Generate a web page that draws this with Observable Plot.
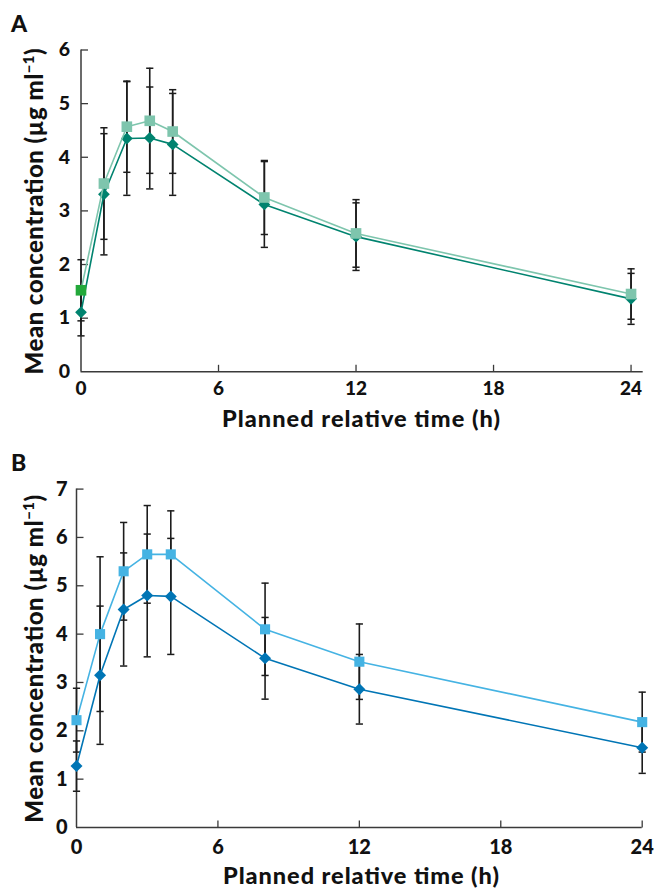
<!DOCTYPE html>
<html><head><meta charset="utf-8">
<script src="https://cdn.jsdelivr.net/npm/d3@7"></script>
<script src="https://cdn.jsdelivr.net/npm/@observablehq/plot@0.6"></script>
<style>
body{margin:0;background:#fff;}
#wrap{position:relative;width:654px;height:888px;}
#wrap svg{position:absolute;left:0;display:block;}
#wrap svg text{font-weight:900;}
</style></head><body><div id="wrap"></div>
<script>
// Shared time points (h)
const times = [0, 1, 2, 3, 4, 8, 12, 24];
const xTicks = [0, 6, 12, 18, 24];

// Panel A
const aSquareMean = [1.52, 3.51, 4.57, 4.68, 4.48, 3.25, 2.58, 1.45];
const aSquareSd   = [0.57, 1.04, 0.85, 0.98, 0.78, 0.69, 0.63, 0.47];
const aDiamondMean = [1.11, 3.31, 4.35, 4.36, 4.24, 3.12, 2.52, 1.36];
const aDiamondSd   = [0.44, 1.13, 1.06, 0.95, 0.95, 0.80, 0.63, 0.475];
const aYTicks = [0, 1, 2, 3, 4, 5, 6];

// Panel B
const bSquareMean = [2.22, 4.00, 5.30, 5.65, 5.65, 4.10, 3.43, 2.18];
const bSquareSd   = [0.66, 1.60, 1.01, 1.01, 0.90, 0.955, 0.78, 0.62];
const bDiamondMean = [1.27, 3.15, 4.51, 4.80, 4.78, 3.50, 2.86, 1.65];
const bDiamondSd   = [0.52, 1.43, 1.17, 1.27, 1.20, 0.845, 0.72, 0.53];
const bYTicks = [0, 1, 2, 3, 4, 5, 6, 7];

const xTitle = "Planned relative time (h)";
const yTitleMain = "Mean concentration (µg ml";
const yTitleSup = "−1";
const yTitleEnd = ")";

const rows = (mean, sd) => times.map((t, i) => ({t, m: mean[i], lo: mean[i] - sd[i], hi: mean[i] + sd[i]}));

// custom line symbols
const capSym = {draw(ctx) { ctx.moveTo(-3.6, 0); ctx.lineTo(3.6, 0); }};
const yTickSym = {draw(ctx) { ctx.moveTo(0, 0); ctx.lineTo(7, 0); }};
const xTickSym = {draw(ctx) { ctx.moveTo(0, 0); ctx.lineTo(0, -7); }};

const FONT = "Lato, 'Open Sans', sans-serif";
const fmt = d3.format("d");

function panel({top, height, mt, mb, ml, mr, xMax, yMax, yTicks, sq, di, light, dark, firstFill, sqR, diR,
                letter, letterY, xFont, yFont, xPad, yPad, titleY, titleLen, yLabelX, yLabelLen}) {
  const sqData = rows(sq[0], sq[1]);
  const diData = rows(di[0], di[1]);
  const errCol = "#1c1c1c";
  const axisCol = "#3a3a3a";
  const svg = Plot.plot({
    width: 654, height,
    marginTop: mt, marginBottom: mb, marginLeft: ml, marginRight: mr,
    style: {fontFamily: FONT, fontWeight: "900", color: "#111", background: "transparent"},
    x: {domain: [0, xMax]},
    y: {domain: [0, yMax]},
    marks: [
      Plot.axisX({ticks: xTicks, tickSize: 0, tickPadding: xPad, label: null, fontSize: xFont, tickFormat: fmt}),
      Plot.axisY({ticks: yTicks, tickSize: 0, tickPadding: yPad, label: null, fontSize: yFont, tickFormat: fmt}),
      Plot.dot(yTicks.filter(d => d > 0), {x: 0, y: d => d, symbol: yTickSym, stroke: axisCol, fill: "none", strokeWidth: 1.3}),
      Plot.dot(xTicks.filter(d => d > 0), {x: d => d, y: 0, symbol: xTickSym, stroke: axisCol, fill: "none", strokeWidth: 1.3}),
      Plot.ruleY([0], {stroke: axisCol, strokeWidth: 1.5}),
      Plot.ruleX([0], {stroke: axisCol, strokeWidth: 1.5}),
      // error bars
      Plot.ruleX(diData, {x: "t", y1: "lo", y2: "hi", stroke: errCol, strokeWidth: 1.6}),
      Plot.ruleX(sqData, {x: "t", y1: "lo", y2: "hi", stroke: errCol, strokeWidth: 1.6}),
      Plot.dot(diData, {x: "t", y: "lo", symbol: capSym, stroke: errCol, fill: "none", strokeWidth: 1.5}),
      Plot.dot(diData, {x: "t", y: "hi", symbol: capSym, stroke: errCol, fill: "none", strokeWidth: 1.5}),
      Plot.dot(sqData, {x: "t", y: "lo", symbol: capSym, stroke: errCol, fill: "none", strokeWidth: 1.5}),
      Plot.dot(sqData, {x: "t", y: "hi", symbol: capSym, stroke: errCol, fill: "none", strokeWidth: 1.5}),
      // series
      Plot.line(diData, {x: "t", y: "m", stroke: dark, strokeWidth: 1.6}),
      Plot.dot(diData, {x: "t", y: "m", symbol: "diamond2", r: diR, fill: dark, stroke: "none"}),
      Plot.line(sqData, {x: "t", y: "m", stroke: light, strokeWidth: 1.6}),
      Plot.dot(sqData, {x: "t", y: "m", symbol: "square", r: sqR, fill: d => (firstFill && d.t === 0) ? firstFill : light, stroke: "none"})
    ]
  });
  svg.style.top = top + "px";
  const s = d3.select(svg);
  s.append("text").attr("x", 11).attr("y", letterY).attr("font-size", 23)
    .attr("text-anchor", "start").attr("fill", "#111").attr("font-family", FONT).text(letter);
  s.append("text").attr("x", 361).attr("y", titleY).attr("font-size", 23.5)
    .attr("text-anchor", "middle").attr("fill", "#111").attr("font-family", FONT)
    .attr("textLength", titleLen).attr("lengthAdjust", "spacing").text(xTitle);
  const yl = s.append("text").attr("transform", `translate(${yLabelX},${(mt + height - mb) / 2 + 1}) rotate(-90)`)
    .attr("font-size", 24).attr("text-anchor", "middle").attr("fill", "#111").attr("font-family", FONT)
    .attr("textLength", yLabelLen).attr("lengthAdjust", "spacing");
  yl.append("tspan").text(yTitleMain);
  yl.append("tspan").attr("baseline-shift", "super").attr("font-size", "0.62em").text(yTitleSup);
  yl.append("tspan").text(yTitleEnd);
  return svg;
}

const wrap = document.getElementById("wrap");
wrap.appendChild(panel({
  top: 0, height: 440, mt: 49.5, mb: 68.7, ml: 80.5, mr: 11.3, xMax: 24.53, yMax: 6, yTicks: aYTicks,
  sq: [aSquareMean, aSquareSd], di: [aDiamondMean, aDiamondSd],
  light: "#7ec5ad", dark: "#00836f", firstFill: "#23a83a", sqR: 6.0, diR: 5.3,
  letter: "A", letterY: 32, xFont: 19, yFont: 19.5, xPad: 10, yPad: 11, titleY: 426.5, titleLen: 278, yLabelX: 43, yLabelLen: 326
}));
wrap.appendChild(panel({
  top: 440, height: 448, mt: 48.6, mb: 61, ml: 76, mr: 12.3, xMax: 24, yMax: 7, yTicks: bYTicks,
  sq: [bSquareMean, bSquareSd], di: [bDiamondMean, bDiamondSd],
  light: "#45b3e3", dark: "#0075b5", firstFill: null, sqR: 5.7, diR: 5.4,
  letter: "B", letterY: 31, xFont: 20, yFont: 20, xPad: 12, yPad: 9, titleY: 443.5, titleLen: 276, yLabelX: 43, yLabelLen: 328
}));
</script></body></html>
